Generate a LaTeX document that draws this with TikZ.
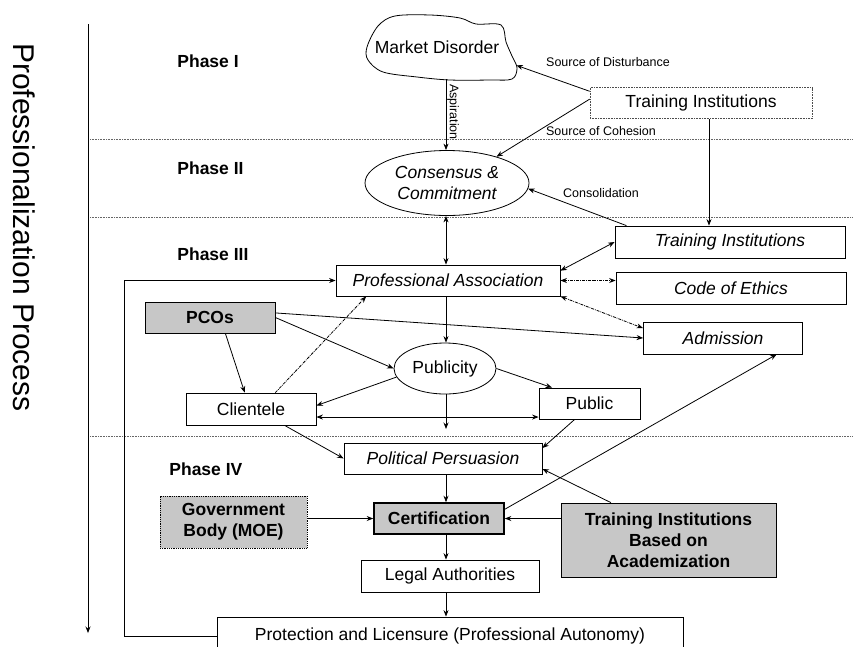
\documentclass[tikz,border=0pt]{standalone}
\usepackage{fontspec}
\setmainfont{Liberation Sans}
\usepackage{tikz}
\usetikzlibrary{arrows.meta,shapes.geometric}
\newcommand{\mainfs}{\fontsize{17.5}{21}\selectfont}
\newcommand{\smallfs}{\fontsize{12.5}{15}\selectfont}

\begin{document}
\begin{tikzpicture}[x=1pt,y=-1pt,line width=0.8pt,>={Stealth[length=6.5pt,width=5pt]},
    box/.style={draw,fill=white,inner sep=0pt,font=\mainfs},
    shaded/.style={box,fill=black!22,font=\mainfs\bfseries},
    oval/.style={ellipse,draw,fill=white,inner sep=0pt,font=\mainfs},
    lbl/.style={font=\smallfs,inner sep=1pt},
    phase/.style={font=\mainfs\bfseries,anchor=west,inner sep=0pt},
    phaseline/.style={densely dotted,line width=0.6pt,black!60},
    dashdot/.style={densely dash dot}]
        \useasboundingbox (0,0) rectangle (853,646);
        \clip (0,0) rectangle (853,646);
        \coordinate (spine) at (446,0);% common vertical
        \coordinate (fbk) at (124,0);
        \coordinate (axTop) at (88,24);
        \coordinate (axBot) at (88,633);
        \coordinate (pblEnd) at (446,429);
        \foreach \yy in {139,217,436} \draw[phaseline] (90,\yy) -- (853,\yy);
        \draw[->] (axTop) -- (axBot);
        \node[rotate=-90,anchor=base,inner sep=0pt,font=\fontsize{30}{36}\selectfont] (proc) at (13,227.5) {Professionalization Process};
        \node[phase] (ph1) at (177,61) {Phase I};
        \node[phase] (ph2) at (177,168) {Phase II};
        \node[phase] (ph3) at (177,254) {Phase III};
        \node[phase] (ph4) at (169,469) {Phase IV};
        % phase I and II
        \draw[fill=white] plot[smooth cycle,tension=0.55] coordinates {(367,47) (378,26) (395,16) (430,15) (460,18) (476,24) (501,25) (506,42) (512,56) (517,68) (512,79) (490,80) (450,80) (417,77) (383,72) (368,60)};
        \node[inner sep=0pt,font=\mainfs,minimum width=158,minimum height=64] (mkt) at (437,47) {Market Disorder};
        \node[box,densely dotted,draw=black!70,line width=0.6pt,minimum width=222,minimum height=31] (tiTop) at (701,103) {Training Institutions};
        \node[oval,font=\mainfs\itshape,align=center,minimum width=164,minimum height=65] (cons) at (447,183) {Consensus \&\\Commitment};
        \node[lbl] (lDist) at (608,62) {Source of Disturbance};
        \node[lbl] (lCoh) at (601,131) {Source of Cohesion};
        \node[lbl] (lCons) at (601,193) {Consolidation};
        \node[lbl,rotate=-90] (lAsp) at (453,112) {Aspiration};
        % phase III
        \node[box,font=\mainfs\itshape,minimum width=230,minimum height=32] (tiA) at (730,242) {Training Institutions};
        \node[box,font=\mainfs\itshape,minimum width=230,minimum height=32] (eth) at (731,288) {Code of Ethics};
        \node[box,font=\mainfs\itshape,minimum width=159,minimum height=32] (adm) at (723,338) {Admission};
        \node[box,font=\mainfs\itshape,minimum width=224,minimum height=31] (pa) at (448,280.5) {Professional Association};
        \node[shaded,minimum width=130,minimum height=31] (pco) at (210,317.5) {PCOs};
        \node[oval,minimum width=102,minimum height=51] (pbl) at (445,368.5) {Publicity};
        \node[box,minimum width=130,minimum height=32] (cli) at (251,409) {Clientele};
        \node[box,minimum width=101,minimum height=31] (pub) at (589.5,403.5) {Public};
        % phase IV
        \node[box,font=\mainfs\itshape,minimum width=198,minimum height=31] (pp) at (443,458.5) {Political Persuasion};
        \node[shaded,line width=1.6pt,minimum width=130,minimum height=31] (cert) at (439,518.5) {Certification};
        \node[shaded,densely dotted,align=center,minimum width=147,minimum height=52] (gov) at (233.5,522) {Government\\Body (MOE)};
        \node[shaded,align=center,minimum width=215,minimum height=74] (tiba) at (668.5,540) {Training Institutions\\Based on\\Academization};
        \node[box,minimum width=178,minimum height=32] (la) at (450,576) {Legal Authorities};
        \node[box,minimum width=466,minimum height=38] (prot) at (450,636) {Protection and Licensure (Professional Autonomy)};
        % connectors
        \draw[->] (spine |- mkt.south) -- (spine |- cons.north);
        \draw[->] (tiTop.174) -- (mkt.-13);
        \draw[->] (tiTop.178) -- (cons.28);
        \draw[->] ([xshift=8pt]tiTop.south) -- ([xshift=8pt]tiTop.south |- tiA.north);
        \draw[->] (tiA.171) -- (cons.-4);
        \draw[<->] (spine |- cons.south) -- (spine |- pa.north);
        \draw[<->] (pa.5) -- (tiA.west);
        \draw[<->,dashdot] (pa.east) -- (pa.east -| eth.west);
        \draw[<->,dashdot] (pa.-8) -- (adm.173);
        \draw[->] (pco.4) -- (adm.west);
        \draw[->] (pco.east) -- (pbl.west);
        \draw[->] (pco.-46) -- (cli.111);
        \draw[->] (spine |- pa.south) -- (spine |- pbl.north);
        \draw[->] (pbl.190) -- (cli.3);
        \draw[->] (pbl.east) -- (pub.157);
        \draw[->] (spine |- pbl.south) -- (pblEnd);
        \draw[<->] (cli.-7) -- (cli.-7 -| pub.west);
        \draw[->,dashdot] (cli.34) -- (pa.-169);
        \draw[->] (cli.-26) -- (pp.west);
        \draw[->] (pub.-133) -- (pp.6);
        \draw[->] (spine |- pp.south) -- (spine |- cert.north);
        \draw[->] (cert.8) -- (adm.-17);
        \draw[->] (cert.west -| gov.east) -- (cert.west);
        \draw[->] (cert.east -| tiba.west) -- (cert.east);
        \draw[->] (tiba.147) -- (pp.-6);
        \draw[->] (spine |- cert.south) -- (spine |- la.north);
        \draw[->] (spine |- la.south) -- (spine |- prot.north);
        \draw[->] (prot.west) -| (fbk |- pa.west) -- (pa.west);
\end{tikzpicture}
\end{document}
